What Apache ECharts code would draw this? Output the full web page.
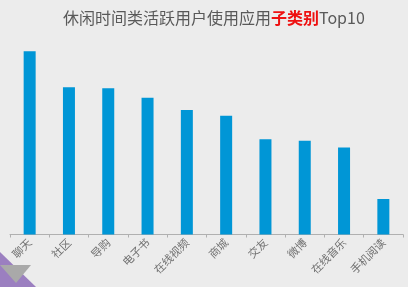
<!DOCTYPE html>
<html>
<head>
<meta charset="utf-8">
<script src="https://cdn.jsdelivr.net/npm/echarts@6/dist/echarts.min.js"></script>
<style>
html,body{margin:0;padding:0;background:#ececec;}
#c{width:408px;height:287px;}
</style>
</head>
<body>
<div id="c"></div>
<script>
var categories = ['聊天', '社区', '导购', '电子书', '在线视频', '商城', '交友', '微博', '在线音乐', '手机阅读'];
var values = [37.7, 30.3, 30.1, 28.1, 25.6, 24.4, 19.6, 19.3, 17.9, 7.3];
var titleMain = '休闲时间类活跃用户使用应用';
var titleHighlight = '子类别';
var titleTail = 'Top10';

var chart = echarts.init(document.getElementById('c'), null, {renderer: 'canvas'});
chart.setOption({
  backgroundColor: '#ececec',
  animation: false,
  title: {
    text: titleMain + '{r|' + titleHighlight + '}' + titleTail,
    left: 58,
    top: 5,
    textStyle: {
      fontFamily: 'Noto Sans CJK SC',
      fontSize: 16,
      fontWeight: 'normal',
      color: '#595959',
      rich: {
        r: {fontFamily: 'Noto Sans CJK SC', fontSize: 16, fontWeight: 'bold', color: '#ee1111'}
      }
    }
  },
  grid: {left: 10, right: 5, top: 40, bottom: 52.5, containLabel: false},
  xAxis: {
    type: 'category',
    data: categories,
    axisLine: {lineStyle: {color: '#b0b0b0', width: 1}},
    axisTick: {show: true, length: 3, lineStyle: {color: '#b0b0b0'}},
    axisLabel: {
      rotate: 45,
      fontFamily: 'Noto Sans CJK SC',
      fontSize: 11,
      color: '#707070',
      margin: 6
    }
  },
  yAxis: {
    type: 'value',
    min: 0,
    max: 40,
    show: false
  },
  series: [{
    type: 'bar',
    data: values,
    barWidth: 12,
    itemStyle: {color: '#0096d6'}
  }],
  graphic: [
    {type: 'polygon', shape: {points: [[0, 252], [0, 287], [36, 287]]}, style: {fill: '#9b7fc0'}, z: 100},
    {type: 'polygon', shape: {points: [[0, 265], [31, 265], [16, 283]]}, style: {fill: '#a9a9a9'}, z: 101}
  ]
});
</script>
</body>
</html>
